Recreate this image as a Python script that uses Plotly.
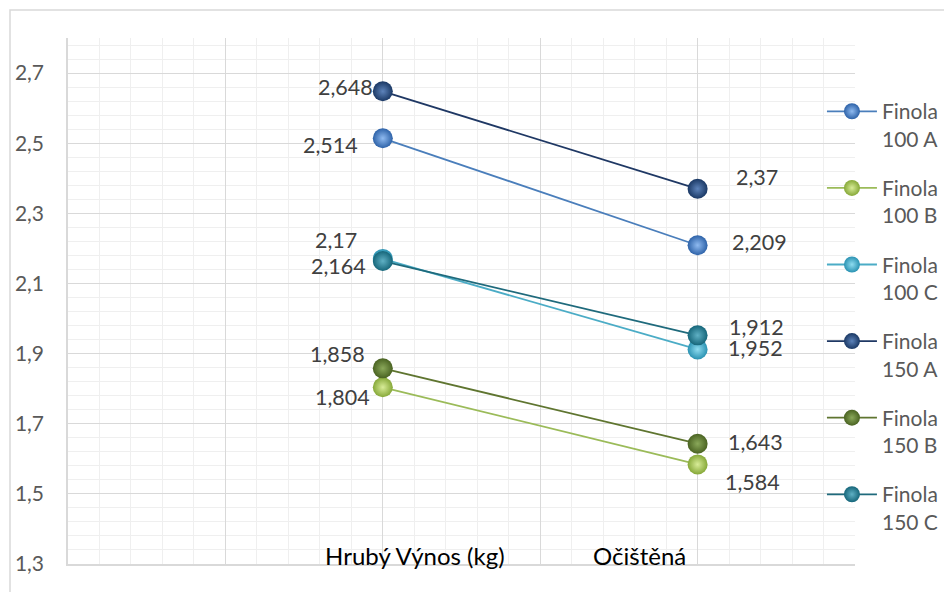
import plotly.graph_objects as go

# ---- data ----
categories = ["Hrubý Výnos (kg)", "Očištěná"]
series_names = ["Finola 100 A", "Finola 100 B", "Finola 100 C",
                "Finola 150 A", "Finola 150 B", "Finola 150 C"]
finola_100a = [2.514, 2.209]
finola_100b = [1.804, 1.584]
finola_100c = [2.17, 1.912]
finola_150a = [2.648, 2.37]
finola_150b = [1.858, 1.643]
finola_150c = [2.164, 1.952]
series_values = [finola_100a, finola_100b, finola_100c,
                 finola_150a, finola_150b, finola_150c]
y_ticks = [1.3, 1.5, 1.7, 1.9, 2.1, 2.3, 2.5, 2.7]

# ---- style / positions ----
x_pos = [2, 4]                 # where the two categories sit on the 0..5 axis
cat_label_x = [2.205, 3.634]   # where Excel put the category captions
line_colors = ["#4a7ebb", "#9bbb59", "#4bacc6", "#1f3864", "#5f7530", "#1f6a7c"]
marker_edge = ["#2d62a8", "#86a838", "#2a92b2", "#1a3864", "#4a6322", "#16667a"]
marker_core = ["#8fbaf0", "#d8ec98", "#8fdcf0", "#5d83ba", "#8aa85a", "#5fb0c4"]
# label offsets (px) relative to the point: (xshift, yshift)
left_off = [(-23, -7), (-11, -10), (-24, 19), (-8, 4), (-16, 14), (-15, -5)]
right_off = [(62, 3), (55, -18), (59, 22), (59, 12), (58, 2), (58, -13)]

FONT = "Lato, Calibri, Carlito, sans-serif"

fig = go.Figure()
for i, (name, vals) in enumerate(zip(series_names, series_values)):
    fig.add_trace(go.Scatter(
        x=x_pos, y=vals, mode="lines+markers",
        name=name.replace(" ", "<br>", 1),
        legendgroup=f"g{i}",
        line=dict(color=line_colors[i], width=1.8),
        marker=dict(size=20, color=marker_edge[i],
                    gradient=dict(type="radial", color=marker_core[i]),
                    line=dict(width=0)),
    ))

annotations = []
for i, vals in enumerate(series_values):
    for j, v in enumerate(vals):
        txt = f"{v:g}".replace(".", ",")
        if j == 0:
            dx, dy = left_off[i]
            anchor = "right"
        else:
            dx, dy = right_off[i]
            anchor = "center"
        annotations.append(dict(
            x=x_pos[j], y=v, xref="x", yref="y", text=txt, showarrow=False,
            xanchor=anchor, yanchor="middle", xshift=dx, yshift=dy,
            font=dict(family=FONT, size=21.5, color="#404040")))

for c, cx in zip(categories, cat_label_x):
    annotations.append(dict(
        x=cx, y=1.3, xref="x", yref="y", text=c, showarrow=False,
        xanchor="center", yanchor="middle", yshift=9,
        font=dict(family=FONT, size=24, color="#000000")))

# plot-area geometry in pixels
L, R, T, B = 68, 855, 38, 564
W, H = R - L, B - T
def px(x):
    return (x - L) / W
def py(y):
    return (B - y) / H

shapes = [dict(type="path", xref="paper", yref="paper",
               path=f"M {px(10)} {py(600)} L {px(10)} {py(10)} L {px(960)} {py(10)}",
               line=dict(color="#d9d9d9", width=1.5))]

fig.update_layout(
    width=944, height=592,
    margin=dict(l=L, r=944 - R, t=T, b=592 - B, autoexpand=False),
    paper_bgcolor="white", plot_bgcolor="white",
    separators=", ",
    font=dict(family=FONT, size=21, color="#595959"),
    showlegend=True,
    legend=dict(x=0.958, y=0.899, xanchor="left", yanchor="top",
                valign="top", tracegroupgap=19, itemwidth=50,
                bgcolor="rgba(0,0,0,0)",
                font=dict(family=FONT, size=21, color="#595959")),
    xaxis=dict(range=[0, 5], dtick=1, tick0=0, showticklabels=False,
               showgrid=True, gridcolor="#d9d9d9", gridwidth=1.3,
               minor=dict(dtick=0.2, showgrid=True, gridcolor="#efefef", gridwidth=1),
               zeroline=False, showline=True, linecolor="#d9d9d9", linewidth=1.5,
               mirror=False, fixedrange=True),
    yaxis=dict(range=[1.3, 2.8], tickvals=y_ticks, tickformat=".1f",
               showgrid=True, gridcolor="#d9d9d9", gridwidth=1.3,
               minor=dict(dtick=0.04, tick0=1.3, showgrid=True, gridcolor="#efefef", gridwidth=1),
               zeroline=False, showline=True, linecolor="#d9d9d9", linewidth=1.5,
               ticks="", ticklabelstandoff=18,
               tickfont=dict(family=FONT, size=21, color="#595959"), fixedrange=True),
    annotations=annotations,
    shapes=shapes,
)

fig.write_html("out.html", config={"displayModeBar": False},
               post_script="document.body.style.margin='0px';document.body.style.overflow='hidden';")
